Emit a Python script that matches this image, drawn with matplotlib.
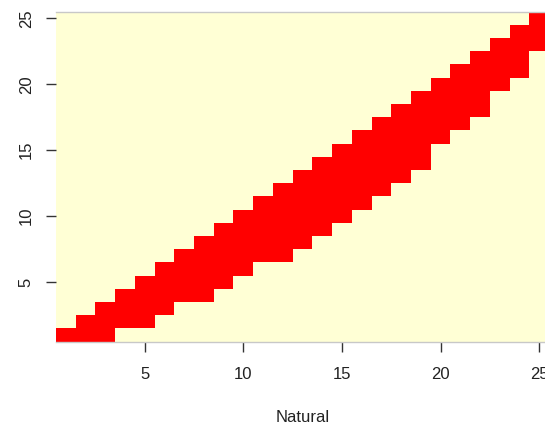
import numpy as np
import matplotlib
matplotlib.use("Agg")
import matplotlib.pyplot as plt
from matplotlib.colors import ListedColormap

plt.rcParams['font.family'] = ['Liberation Sans', 'DejaVu Sans']

# band of matched cells: for each row (y index) the first and last column that is red
row_idx = list(range(1, 26))
band_start = [1, 2, 3, 4, 5, 6, 7, 8, 9, 10, 11, 12, 13, 14, 15, 16, 17, 18, 19, 20, 21, 22, 23, 24, 25]
band_end = [3, 5, 6, 8, 9, 10, 12, 13, 14, 15, 16, 17, 18, 19, 19, 20, 21, 22, 22, 23, 24, 24, 25, 25, 25]
n_cols = 25
tick_vals = [5, 10, 15, 20, 25]
x_title = "Natural"

# build the 0/1 matrix from the band
z = np.zeros((len(row_idx), n_cols))
for r, lo, hi in zip(row_idx, band_start, band_end):
    z[r - 1, lo - 1:hi] = 1

fig = plt.figure(figsize=(5.45, 4.3), dpi=100)
ax = fig.add_axes([56 / 545, (430 - 341.5) / 430, 493 / 545, 329.8 / 430])

xe = np.arange(0.5, n_cols + 1)
ye = np.arange(0.5, len(row_idx) + 1)
ax.pcolormesh(xe, ye, z, cmap=ListedColormap(['#FFFFD5', '#FF0000']), vmin=0, vmax=1)
ax.set_xlim(0.5, n_cols + 0.5)
ax.set_ylim(0.5, len(row_idx) + 0.5)

ax.set_xticks(tick_vals)
ax.set_yticks(tick_vals)
ax.set_xticklabels([str(v) for v in tick_vals])
ax.set_yticklabels([str(v) for v in tick_vals], rotation=90, va='center')
ax.tick_params(axis='x', length=7.5, width=1, color='#333333', pad=11, labelsize=12, labelcolor='#222222')
ax.tick_params(axis='y', length=7, width=1, color='#333333', pad=9, labelsize=12, labelcolor='#222222')

for side in ['left', 'right']:
    ax.spines[side].set_visible(False)
for side in ['top', 'bottom']:
    ax.spines[side].set_color('#c8c8c8')
    ax.spines[side].set_linewidth(1)

ax.set_xlabel(x_title, fontsize=12, color='#222222', va='center')
ax.xaxis.set_label_coords(0.5, (341.5 - 418) / 329.8)

fig.savefig("out.png", dpi=100)
